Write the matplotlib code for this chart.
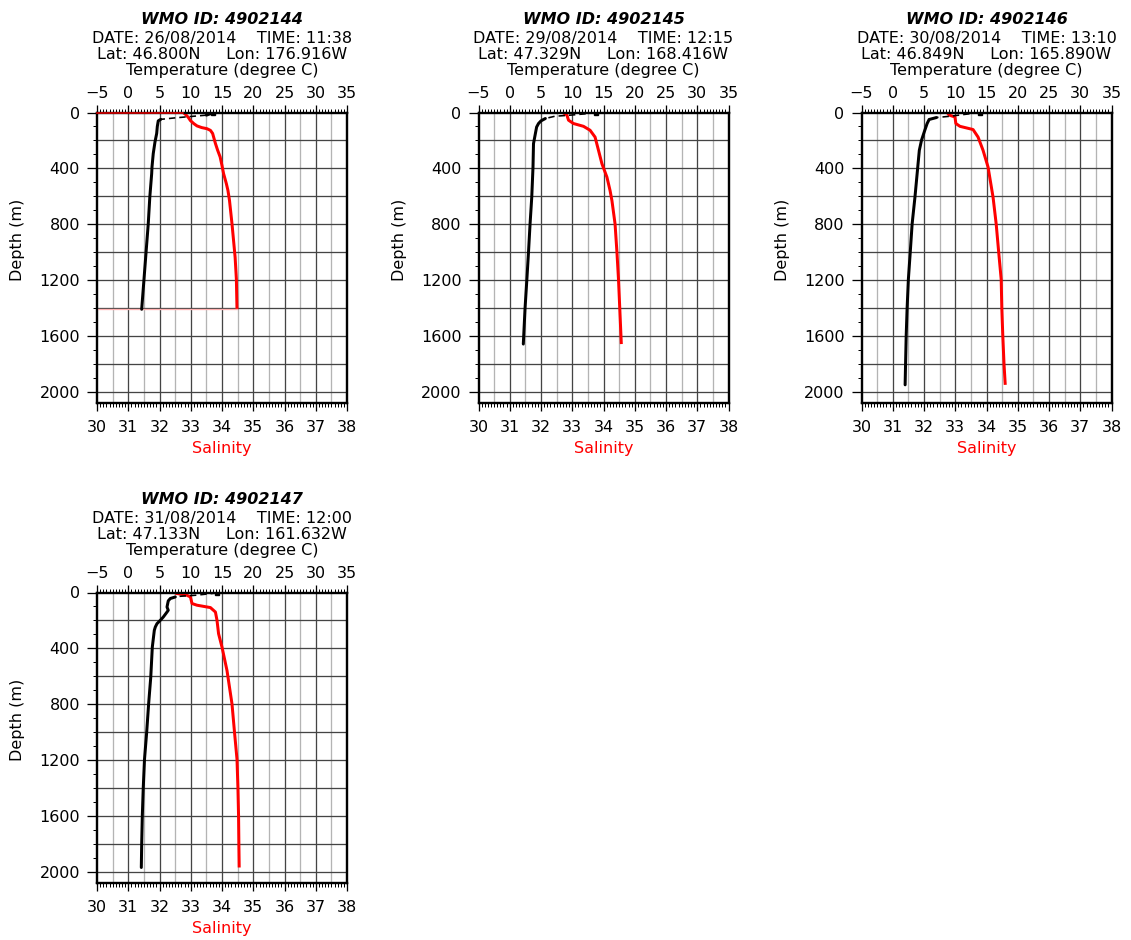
import numpy as np
import matplotlib
matplotlib.use("Agg")
import matplotlib.pyplot as plt
from matplotlib.ticker import MultipleLocator

# ---- float metadata -------------------------------------------------------
wmo_ids = ["4902144", "4902145", "4902146", "4902147"]
dates = ["26/08/2014", "29/08/2014", "30/08/2014", "31/08/2014"]
times = ["11:38", "12:15", "13:10", "12:00"]
lats = ["46.800N", "47.329N", "46.849N", "47.133N"]
lons = ["176.916W", "168.416W", "165.890W", "161.632W"]

# ---- temperature profiles (depth m, degree C) -----------------------------
temp_depth_1 = [0, 8, 19, 29, 38, 49, 60, 100, 150, 210, 294, 390, 437, 605, 797, 1000, 1205, 1409]
temp_1 = [13.6, 13.2, 12.5, 9.9, 7.6, 5.2, 4.8, 4.65, 4.55, 4.28, 4.0, 3.8, 3.75, 3.45, 3.2, 2.85, 2.5, 2.15]

temp_depth_2 = [0, 10, 19, 27, 43, 60, 79, 104, 151, 223, 391, 607, 798, 1000, 1194, 1400, 1658]
temp_2 = [13.8, 12.0, 9.7, 7.2, 5.7, 5.0, 4.6, 4.3, 4.1, 3.8, 3.72, 3.52, 3.25, 3.0, 2.74, 2.45, 2.17]

temp_depth_3 = [0, 27, 36, 50, 79, 127, 199, 271, 391, 607, 798, 1000, 1194, 1400, 1600, 1800, 1950]
temp_3 = [13.93, 9.13, 7.0, 5.82, 5.5, 5.13, 4.6, 4.25, 4.0, 3.55, 3.1, 2.8, 2.5, 2.3, 2.15, 2.05, 1.98]

temp_depth_4 = [3, 19, 27, 32, 43, 60, 104, 127, 140, 176, 199, 223, 247, 271, 391, 607, 798, 1000, 1194, 1400, 1600, 1800, 1969]
temp_4 = [14.2, 11.0, 8.33, 7.53, 6.73, 6.4, 6.2, 6.4, 6.2, 5.6, 5.13, 4.6, 4.33, 4.17, 3.85, 3.6, 3.26, 2.95, 2.6, 2.4, 2.25, 2.15, 2.09]

# ---- salinity profiles (depth m, PSU) -------------------------------------
sal_depth_1 = [0, 15, 35, 58, 80, 96, 108, 116, 128, 150, 190, 222, 270, 318, 380, 437, 510, 558, 630, 797, 1037, 1193, 1409]
sal_1 = [32.76, 32.84, 32.92, 32.99, 33.10, 33.20, 33.35, 33.52, 33.63, 33.70, 33.75, 33.79, 33.86, 33.94, 34.00, 34.05, 34.14, 34.19, 34.24, 34.32, 34.42, 34.46, 34.48]

sal_depth_2 = [0, 19, 55, 79, 99, 127, 176, 271, 367, 463, 559, 631, 798, 1000, 1194, 1400, 1658]
sal_2 = [32.70, 32.83, 32.88, 33.04, 33.36, 33.57, 33.73, 33.84, 33.95, 34.11, 34.21, 34.27, 34.37, 34.43, 34.48, 34.52, 34.57]

sal_depth_3 = [0, 19, 32, 79, 99, 122, 176, 271, 391, 607, 798, 1000, 1194, 1400, 1590, 1800, 1950]
sal_3 = [32.74, 32.81, 32.99, 33.02, 33.15, 33.57, 33.73, 33.89, 34.05, 34.21, 34.31, 34.39, 34.47, 34.49, 34.52, 34.56, 34.60]

sal_depth_4 = [3, 7, 19, 32, 79, 91, 108, 140, 199, 295, 391, 559, 798, 1000, 1194, 1400, 1600, 1800, 1969]
sal_4 = [32.5, 32.55, 32.87, 32.99, 33.04, 33.2, 33.63, 33.79, 33.84, 33.89, 34.0, 34.16, 34.32, 34.4, 34.48, 34.51, 34.53, 34.54, 34.55]

# profiles whose salinity trace is joined back to the left frame edge
edge_links = [True, False, False, False]

temps = [(temp_1, temp_depth_1), (temp_2, temp_depth_2), (temp_3, temp_depth_3), (temp_4, temp_depth_4)]
sals = [(sal_1, sal_depth_1), (sal_2, sal_depth_2), (sal_3, sal_depth_3), (sal_4, sal_depth_4)]

# ---- figure layout (pixel based) -----------------------------------------
W, H = 1131, 940
DPI = 100
AW, AH = 250, 290.5
panel_origin = [(97, 112.5), (478.5, 112.5), (861.5, 112.5), (97, 592.5)]
FS = 11.5

plt.rcParams["font.family"] = ["DejaVu Sans"]
fig = plt.figure(figsize=(W / DPI, H / DPI), dpi=DPI)


def px(v):
    return v * 72.0 / DPI


def runs_by_flag(flags):
    """Group consecutive segment indices sharing the same flag."""
    groups = []
    start = 0
    for i in range(1, len(flags) + 1):
        if i == len(flags) or flags[i] != flags[start]:
            groups.append((flags[start], start, i))
            start = i
    return groups


def fig_text(x, y, s, **kw):
    fig.text(x / W, 1 - y / H, s, fontsize=FS, **kw)


for k, (x0, top) in enumerate(panel_origin):
    ax = fig.add_axes([x0 / W, 1 - (top + AH) / H, AW / W, AH / H])
    ax.set_xlim(30, 38)
    ax.set_ylim(2080, 0)

    # grid: integer salinity dark, half-units light, every 200 m dark
    ax.vlines(np.arange(30.5, 38, 1.0), 0, 2080, colors="#b4b4b4", lw=px(1.3), zorder=0)
    ax.vlines(np.arange(31, 38, 1.0), 0, 2080, colors="#444444", lw=px(1.3), zorder=0)
    ax.hlines(np.arange(200, 2080, 200), 30, 38, colors="#444444", lw=px(1.3), zorder=0)

    # ticks on salinity / depth axes
    ax.xaxis.set_major_locator(MultipleLocator(1))
    ax.xaxis.set_minor_locator(MultipleLocator(0.1))
    ax.yaxis.set_major_locator(MultipleLocator(400))
    ax.yaxis.set_minor_locator(MultipleLocator(100))
    ax.tick_params(axis="x", which="major", direction="out", length=px(8), width=px(1.3),
                   labelsize=FS, pad=px(9))
    ax.tick_params(axis="x", which="minor", direction="out", length=px(4), width=px(1))
    ax.tick_params(axis="y", which="major", direction="out", length=px(10), width=px(1.3),
                   labelsize=FS, pad=px(7))
    ax.tick_params(axis="y", which="minor", direction="out", length=px(4), width=px(1))
    ax.tick_params(top=False, right=False, which="both")
    for sp in ax.spines.values():
        sp.set_linewidth(px(2.2))

    # salinity trace
    s_vals, s_dep = sals[k]
    ax.plot(s_vals, s_dep, color="#ff0000", lw=px(3), solid_capstyle="butt", zorder=3)

    # temperature axis on top
    axT = ax.twiny()
    axT.set_xlim(-5, 35)
    axT.patch.set_visible(False)
    axT.xaxis.set_major_locator(MultipleLocator(5))
    axT.xaxis.set_minor_locator(MultipleLocator(0.5))
    axT.tick_params(axis="x", which="major", direction="out", length=px(8), width=px(1.3),
                    labelsize=FS, pad=px(4))
    axT.tick_params(axis="x", which="minor", direction="out", length=px(4), width=px(1))
    for sp in axT.spines.values():
        sp.set_linewidth(px(2.2))

    if edge_links[k]:
        # links from the frame edge to the first and last salinity samples
        xmin = ax.get_xlim()[0]
        axT.plot([xmin, s_vals[0]], [s_dep[0], s_dep[0]], color="#e00000", lw=px(1.6),
                 transform=ax.transData, clip_on=False, zorder=5)
        axT.plot([xmin, s_vals[-1]], [s_dep[-1], s_dep[-1]], color="#ffb0b0", lw=px(1.3),
                 transform=ax.transData, zorder=1)

    t_vals, t_dep = temps[k]
    t_arr = np.asarray(t_vals, dtype=float)
    d_arr = np.asarray(t_dep, dtype=float)
    steep = list(np.abs(np.diff(t_arr) / np.diff(d_arr)) > 0.09)
    for is_steep, a, b in runs_by_flag(steep):
        seg_t = t_arr[a:b + 1]
        seg_d = d_arr[a:b + 1]
        if is_steep:
            axT.plot(seg_t, seg_d, color="black", lw=px(1.6), dashes=(4, 2.5), zorder=4)
        else:
            axT.plot(seg_t, seg_d, color="black", lw=px(3), solid_capstyle="round", zorder=4)
    axT.plot(t_arr[:1], d_arr[:1], "s", color="black", ms=3.5, zorder=4)

    # header and axis titles
    cx = x0 + AW / 2
    dy = top - 112.5
    fig_text(cx, 24 + dy, f"WMO ID: {wmo_ids[k]}", ha="center", va="baseline",
             fontweight="bold", fontstyle="italic")
    fig_text(cx, 43 + dy, f"DATE: {dates[k]}    TIME: {times[k]}", ha="center", va="baseline")
    fig_text(cx, 59 + dy, f"Lat: {lats[k]}     Lon: {lons[k]}", ha="center", va="baseline")
    fig_text(cx, 74.5 + dy, "Temperature (degree C)", ha="center", va="baseline")
    fig_text(cx, 453 + dy, "Salinity", ha="center", va="baseline", color="#ff0000")
    fig_text(x0 - 79, 240 + dy, "Depth (m)", ha="center", va="center", rotation=90)

fig.savefig("out.png", dpi=DPI)
